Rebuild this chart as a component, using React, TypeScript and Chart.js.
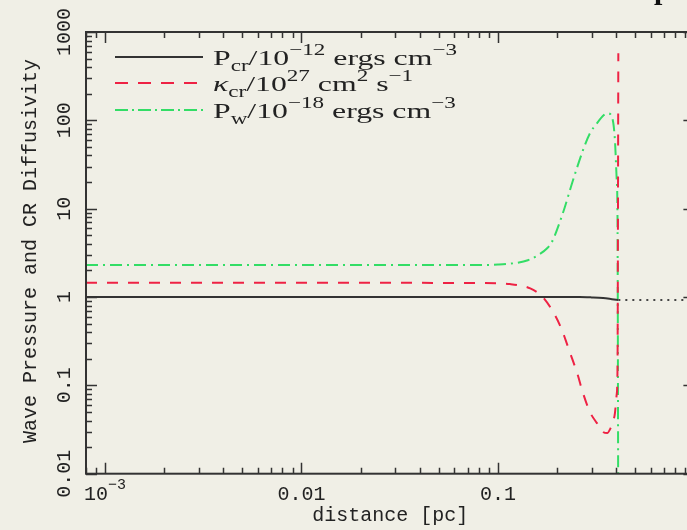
import React, { useEffect, useRef } from "react";
import { Chart, registerables } from "chart.js";
Chart.register(...registerables);

// ---- data ----
const pcrX = [8e-4, 0.01, 0.1, 0.2, 0.26, 0.3, 0.343, 0.38, 0.41];
const pcrY = [1.0, 1.0, 1.0, 1.0, 1.0, 0.99, 0.973, 0.945, 0.923];

const downX = [0.41, 1.0];
const downY = [0.923, 0.923];

const kapX = [8e-4, 0.01, 0.08, 0.115, 0.146, 0.169, 0.195, 0.212, 0.233, 0.253, 0.271, 0.294, 0.319, 0.343, 0.36, 0.375, 0.386, 0.394, 0.402, 0.406, 0.41];
const kapY = [1.45, 1.45, 1.44, 1.40, 1.25, 1.0, 0.624, 0.42, 0.232, 0.138, 0.0818, 0.0499, 0.0374, 0.0296, 0.0288, 0.033, 0.039, 0.0486, 0.078, 0.15, 574];

const pwX = [8e-4, 0.01, 0.08, 0.1, 0.125, 0.142, 0.16, 0.178, 0.188, 0.214, 0.241, 0.271, 0.294, 0.319, 0.345, 0.363, 0.381, 0.394, 0.402, 0.406, 0.41];
const pwY = [2.3, 2.3, 2.3, 2.33, 2.44, 2.61, 2.98, 3.57, 4.18, 8.9, 21, 45.9, 71.5, 92.5, 114, 120, 108, 59.6, 22, 8, 0.001];

const xTickValues = [1e-3, 0.01, 0.1];
const yTickValues = [0.01, 0.1, 1, 10, 100, 1000];
const yTickLabels = ["0.01", "0.1", "1", "10", "100", "1000"];

const xTitle = "distance [pc]";
const yTitle = "Wave Pressure and CR Diffusivity";

type Seg = [string, "n" | "sub" | "sup" | "it"];
const legendRows: { color: string; dash: number[]; segs: Seg[] }[] = [
  { color: "#333333", dash: [], segs: [["P", "n"], ["cr", "sub"], ["/10", "n"], ["\u221212", "sup"], [" ergs cm", "n"], ["\u22123", "sup"]] },
  { color: "#ee2244", dash: [13, 10], segs: [["\u03ba", "it"], ["cr", "sub"], ["/10", "n"], ["27", "sup"], [" cm", "n"], ["2", "sup"], [" s", "n"], ["\u22121", "sup"]] },
  { color: "#33dd66", dash: [13, 4, 2, 4], segs: [["P", "n"], ["w", "sub"], ["/10", "n"], ["\u221218", "sup"], [" ergs cm", "n"], ["\u22123", "sup"]] },
];

const BG = "#f0efe6";
const AXIS = "#333333";
const MONO = '"Liberation Mono", "DejaVu Sans Mono", monospace';
const SERIF = '"Liberation Serif", "DejaVu Serif", serif';

function pts(xs: number[], ys: number[]) {
  return xs.map((x, i) => ({ x, y: ys[i] }));
}

function segFont(k: string) {
  if (k === "sub" || k === "sup") return `16px ${SERIF}`;
  if (k === "it") return `italic 22px ${SERIF}`;
  return `22px ${SERIF}`;
}
function segDy(k: string) {
  if (k === "sub") return 6;
  if (k === "sup") return -10;
  return 0;
}

const decor = {
  id: "decor",
  beforeDraw(chart: any) {
    const ctx = chart.ctx;
    ctx.save();
    ctx.fillStyle = BG;
    ctx.fillRect(0, 0, chart.width, chart.height);
    ctx.restore();
  },
  afterDraw(chart: any) {
    const ctx: CanvasRenderingContext2D = chart.ctx;
    const a = chart.chartArea;
    const xs = chart.scales.x;
    const ys = chart.scales.y;
    ctx.save();
    ctx.strokeStyle = AXIS;
    ctx.lineWidth = 2;
    ctx.setLineDash([]);
    ctx.strokeRect(a.left, a.top, a.right - a.left, a.bottom - a.top);
    ctx.lineWidth = 1.5;
    // x ticks
    for (let e = -4; e <= 0; e++) {
      for (let m = 1; m <= 9; m++) {
        const v = m * Math.pow(10, e);
        if (v < xs.min * 0.999 || v > xs.max * 1.001) continue;
        const px = Math.round(xs.getPixelForValue(v)) + 0.5;
        const len = m === 1 ? 11 : 6;
        ctx.beginPath();
        ctx.moveTo(px, a.bottom);
        ctx.lineTo(px, a.bottom - len);
        ctx.moveTo(px, a.top);
        ctx.lineTo(px, a.top + len);
        ctx.stroke();
      }
    }
    // y ticks
    for (let e = -2; e <= 3; e++) {
      for (let m = 1; m <= 9; m++) {
        const v = m * Math.pow(10, e);
        if (v < ys.min * 0.999 || v > ys.max * 1.001) continue;
        const py = Math.round(ys.getPixelForValue(v)) + 0.5;
        const len = m === 1 ? 11 : 6;
        ctx.beginPath();
        ctx.moveTo(a.left, py);
        ctx.lineTo(a.left + len, py);
        ctx.moveTo(a.right, py);
        ctx.lineTo(a.right - len, py);
        ctx.stroke();
      }
    }
    // tick labels
    ctx.fillStyle = "#222";
    ctx.font = `20px ${MONO}`;
    ctx.textBaseline = "alphabetic";
    xTickValues.forEach((v) => {
      const px = xs.getPixelForValue(v);
      if (v === 1e-3) {
        ctx.textAlign = "left";
        ctx.font = `20px ${MONO}`;
        ctx.fillText("10", px - 21, 500);
        const w = ctx.measureText("10").width;
        ctx.font = `15px ${MONO}`;
        ctx.fillText("\u22123", px - 21 + w, 489);
      } else {
        ctx.textAlign = "center";
        ctx.font = `20px ${MONO}`;
        ctx.fillText(String(v), px, 500);
      }
    });
    ctx.font = `20px ${MONO}`;
    yTickValues.forEach((v, i) => {
      const py = ys.getPixelForValue(v);
      ctx.save();
      ctx.translate(70, py);
      ctx.rotate(-Math.PI / 2);
      ctx.textAlign = "center";
      ctx.textBaseline = "alphabetic";
      ctx.fillText(yTickLabels[i], 0, 0);
      ctx.restore();
    });
    // titles
    ctx.textAlign = "center";
    ctx.fillText(xTitle, (a.left + a.right) / 2, 521);
    ctx.save();
    ctx.translate(36, 251);
    ctx.rotate(-Math.PI / 2);
    ctx.fillText(yTitle, 0, 0);
    ctx.restore();

    // legend
    const rowsY = [57, 83, 110];
    // measure first row to set horizontal stretch
    let w0 = 0;
    legendRows[0].segs.forEach(([t, k]) => {
      ctx.font = segFont(k);
      w0 += ctx.measureText(t).width;
    });
    const sx = 244 / w0;
    legendRows.forEach((r, i) => {
      const ly = rowsY[i];
      ctx.save();
      ctx.strokeStyle = r.color;
      ctx.lineWidth = 2;
      ctx.setLineDash(r.dash);
      ctx.beginPath();
      ctx.moveTo(115, ly);
      ctx.lineTo(203, ly);
      ctx.stroke();
      ctx.restore();
      const base = ly + 8;
      ctx.save();
      ctx.translate(213, 0);
      ctx.scale(sx, 1);
      ctx.textAlign = "left";
      ctx.fillStyle = "#222";
      let cx = 0;
      r.segs.forEach(([t, k]) => {
        ctx.font = segFont(k);
        ctx.fillText(t, cx, base + segDy(k));
        cx += ctx.measureText(t).width;
      });
      ctx.restore();
    });

    // cut-off title glyph at the top right
    ctx.font = `bold 30px ${SERIF}`;
    ctx.textAlign = "left";
    ctx.fillStyle = "#111";
    ctx.fillText("p", 654, -1);
    ctx.restore();
  },
};

export default function App() {
  const ref = useRef<HTMLCanvasElement | null>(null);
  useEffect(() => {
    if (!ref.current) return;
    const chart = new Chart(ref.current, {
      type: "line",
      data: {
        datasets: [
          { data: pts(pcrX, pcrY), borderColor: "#333333", borderWidth: 2, pointRadius: 0, cubicInterpolationMode: "monotone" },
          { data: pts(downX, downY), borderColor: "#444444", borderWidth: 2, borderDash: [2, 5], pointRadius: 0 },
          { data: pts(kapX, kapY), borderColor: "#ee2244", borderWidth: 2, borderDash: [11, 10], pointRadius: 0, cubicInterpolationMode: "monotone" },
          { data: pts(pwX, pwY), borderColor: "#33dd66", borderWidth: 2, borderDash: [12, 5, 2, 5], pointRadius: 0, cubicInterpolationMode: "monotone" },
        ],
      },
      options: {
        animation: false,
        responsive: false,
        devicePixelRatio: 1,
        parsing: false as any,
        layout: { padding: { left: 86, top: 32, right: 25.6, bottom: 56.3 } },
        plugins: { legend: { display: false }, tooltip: { enabled: false } },
        scales: {
          x: { type: "logarithmic", min: 8e-4, max: 1, display: false },
          y: { type: "logarithmic", min: 0.01, max: 1000, display: false },
        },
      },
      plugins: [decor],
    });
    return () => chart.destroy();
  }, []);
  return (
    <div style={{ position: "fixed", left: 0, top: 0, width: 687, height: 530, overflow: "hidden", background: BG }}>
      <canvas ref={ref} width={720} height={530} style={{ display: "block", width: 720, height: 530 }} />
    </div>
  );
}
